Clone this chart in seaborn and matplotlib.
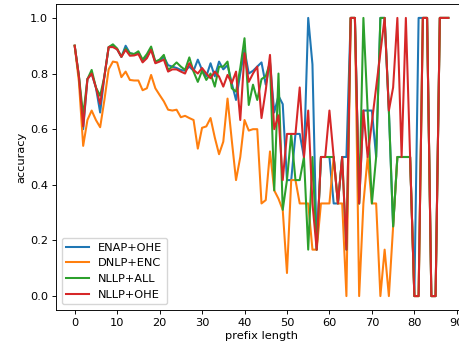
import numpy as np
import pandas as pd
import matplotlib
matplotlib.use("Agg")
import matplotlib.pyplot as plt
import seaborn as sns


# ---------------- DATA ---------------- #

prefix_length = list(range(89))

enap_ohe = [
    0.90, 0.79, 0.60, 0.78, 0.80, 0.75, 0.66, 0.79, 0.895, 0.90,
    0.887, 0.86, 0.90, 0.873, 0.87, 0.875, 0.845, 0.86, 0.89, 0.84,
    0.845, 0.86, 0.83, 0.825, 0.82, 0.813, 0.81, 0.825, 0.81, 0.85,
    0.813, 0.79, 0.837, 0.79, 0.843, 0.815, 0.83, 0.765, 0.705, 0.80,
    0.885, 0.80, 0.81, 0.825, 0.84, 0.76, 0.84, 0.66, 0.72, 0.69,
    0.417, 0.417, 0.583, 0.583, 0.5, 1.0, 0.833, 0.167, 0.5, 0.5,
    0.5, 0.333, 0.333, 0.5, 0.5, 1.0, 1.0, 0.333, 0.667, 0.667,
    0.667, 0.5, 1.0, 1.0, 0.667, 0.25, 0.5, 0.5, 0.5, 0.5,
    0.0, 1.0, 1.0, 1.0, 0.0, 0.0, 1.0, 1.0, 1.0,
]

dnlp_enc = [
    0.90, 0.77, 0.54, 0.633, 0.667, 0.633, 0.607, 0.705, 0.815, 0.843,
    0.84, 0.787, 0.807, 0.777, 0.775, 0.775, 0.74, 0.747, 0.795, 0.747,
    0.723, 0.70, 0.67, 0.667, 0.67, 0.643, 0.648, 0.64, 0.633, 0.53,
    0.605, 0.61, 0.64, 0.57, 0.51, 0.555, 0.71, 0.56, 0.417, 0.50,
    0.633, 0.595, 0.60, 0.60, 0.333, 0.345, 0.52, 0.38, 0.35, 0.31,
    0.083, 0.417, 0.417, 0.333, 0.333, 0.333, 0.167, 0.167, 0.333, 0.333,
    0.333, 0.5, 0.333, 0.333, 0.0, 1.0, 1.0, 0.0, 0.333, 0.5,
    0.333, 0.333, 0.0, 0.167, 0.0, 0.25, 0.5, 0.5, 0.5, 0.5,
    0.0, 0.0, 1.0, 1.0, 0.0, 0.0, 1.0, 1.0, 1.0,
]

nllp_all = [
    0.90, 0.79, 0.65, 0.78, 0.813, 0.75, 0.72, 0.79, 0.895, 0.905,
    0.89, 0.86, 0.89, 0.873, 0.87, 0.88, 0.85, 0.87, 0.897, 0.843,
    0.85, 0.867, 0.813, 0.825, 0.84, 0.825, 0.813, 0.858, 0.807, 0.77,
    0.81, 0.777, 0.80, 0.753, 0.825, 0.825, 0.843, 0.747, 0.735, 0.82,
    0.927, 0.687, 0.76, 0.705, 0.78, 0.79, 0.84, 0.38, 0.80, 0.31,
    0.417, 0.583, 0.417, 0.417, 0.5, 0.167, 0.5, 0.167, 0.5, 0.5,
    0.5, 0.5, 0.333, 0.5, 0.167, 1.0, 1.0, 0.333, 1.0, 0.667,
    0.333, 0.5, 1.0, 1.0, 0.667, 0.25, 0.5, 0.5, 0.5, 0.5,
    0.0, 0.0, 1.0, 1.0, 0.0, 0.0, 1.0, 1.0, 1.0,
]

nllp_ohe = [
    0.90, 0.79, 0.61, 0.78, 0.80, 0.75, 0.69, 0.79, 0.895, 0.895,
    0.887, 0.86, 0.885, 0.864, 0.865, 0.87, 0.84, 0.855, 0.885, 0.837,
    0.843, 0.85, 0.807, 0.815, 0.815, 0.807, 0.80, 0.837, 0.813, 0.80,
    0.82, 0.80, 0.783, 0.807, 0.789, 0.753, 0.795, 0.765, 0.807, 0.633,
    0.873, 0.77, 0.80, 0.825, 0.64, 0.74, 0.867, 0.60, 0.65, 0.417,
    0.583, 0.583, 0.583, 0.75, 0.5, 0.667, 0.333, 0.167, 0.5, 0.5,
    0.667, 0.5, 0.333, 0.5, 0.167, 1.0, 1.0, 0.333, 0.667, 0.5,
    0.625, 0.75, 0.875, 1.0, 0.667, 0.75, 1.0, 0.5, 1.0, 0.5,
    0.0, 0.0, 1.0, 1.0, 0.0, 0.0, 1.0, 1.0, 1.0,
]

series_names = ["ENAP+OHE", "DNLP+ENC", "NLLP+ALL", "NLLP+OHE"]
series_values = [enap_ohe, dnlp_enc, nllp_all, nllp_ohe]


# ---------------- STYLE ---------------- #

s = 0.82
plt.rcParams.update({
    "font.size": 10 * s,
    "axes.linewidth": 0.8 * s,
    "xtick.major.size": 3.5 * s,
    "ytick.major.size": 3.5 * s,
    "xtick.major.width": 0.8 * s,
    "ytick.major.width": 0.8 * s,
    "xtick.major.pad": 3.5 * s,
    "ytick.major.pad": 3.5 * s,
    "legend.fontsize": 10 * s,
    "lines.linewidth": 1.5 * s * 1.2,
})


# ---------------- PLOT ---------------- #

fig = plt.figure(figsize=(4.6, 3.49), dpi=100)
ax = fig.add_axes([56 / 460, 39 / 349, 411 / 460, 306 / 349])

for name, vals in zip(series_names, series_values):
    df = pd.DataFrame({"prefix length": prefix_length, "accuracy": vals})
    sns.lineplot(data=df, x="prefix length", y="accuracy", label=name, ax=ax)

ax.set_xticks(np.arange(0, 100, 10))
ax.set_xlabel("prefix length", labelpad=3 * s)
ax.set_ylabel("accuracy", labelpad=3 * s)
ax.legend(loc="lower left")

fig.savefig("out.png", dpi=100)
plt.close(fig)
